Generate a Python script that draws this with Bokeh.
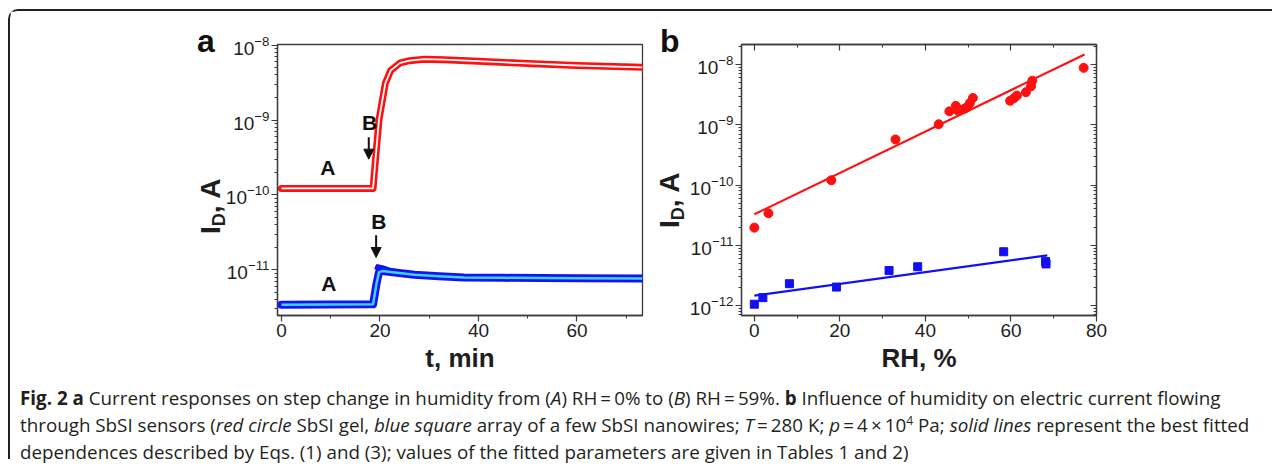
import math
from bokeh.plotting import figure
from bokeh.models import FixedTicker, LogAxis, LinearAxis, Label, Arrow, NormalHead, Div, CustomJSTickFormatter
from bokeh.layouts import row, column
from bokeh.embed import file_html
from bokeh.resources import INLINE

# ---------------- data: panel a (current vs time) ----------------
t_red = [0, 18.6, 19.1, 19.8, 20.4, 21.1, 22.2, 24.1, 26.0, 29.0, 33.0, 40.0, 50.0, 60.0, 73.3]
i_red = [1.22e-10, 1.22e-10, 3.0e-10, 1.0e-9, 1.7e-9, 3.1e-9, 4.6e-9, 5.8e-9, 6.2e-9, 6.5e-9,
         6.4e-9, 6.1e-9, 5.7e-9, 5.35e-9, 5.05e-9]
t_blue = [0, 18.6, 19.3, 19.8, 20.5, 23.0, 27.0, 32.0, 37.0, 45.0, 60.0, 73.3]
i_blue = [3.4e-12, 3.45e-12, 6.5e-12, 9.3e-12, 9.6e-12, 9.2e-12, 8.6e-12, 8.2e-12, 7.9e-12,
          7.8e-12, 7.7e-12, 7.65e-12]
t_blue_peak = [19.2, 19.5, 20.5, 22.0, 24.0]
i_blue_peak = [1.0e-11, 1.12e-11, 1.08e-11, 1.0e-11, 9.4e-12]
a_xticks = [0, 20, 40, 60]
a_xminor = [10, 30, 50, 70]
a_yticks = [1e-11, 1e-10, 1e-9, 1e-8]

# ---------------- data: panel b (current vs RH) ----------------
rh_red = [0, 3.3, 18.0, 33.0, 43.1, 45.6, 47.1, 47.6, 48.2, 49.2, 49.8, 50.4, 51.1,
          59.8, 60.7, 61.4, 63.5, 64.7, 65.0, 77.0]
id_red = [1.96e-11, 3.39e-11, 1.2e-10, 5.7e-10, 1.02e-9, 1.67e-9, 2.06e-9, 1.72e-9, 1.76e-9,
          1.86e-9, 1.98e-9, 2.3e-9, 2.79e-9, 2.5e-9, 2.76e-9, 3.05e-9, 3.47e-9, 4.36e-9, 5.4e-9, 8.8e-9]
rh_blue = [0, 2.0, 8.2, 19.2, 31.5, 38.2, 58.3, 68.1, 68.2]
id_blue = [1.05e-12, 1.35e-12, 2.3e-12, 2.02e-12, 3.8e-12, 4.4e-12, 7.8e-12, 5.35e-12, 4.9e-12]
rh_fit_red = [0, 77.2]
id_fit_red = [3.26e-11, 1.47e-8]
rh_fit_blue = [0, 68.5]
id_fit_blue = [1.46e-12, 6.8e-12]
b_xticks = [0, 20, 40, 60, 80]
b_xminor = [10, 30, 50, 70]
b_yticks = [1e-12, 1e-11, 1e-10, 1e-9, 1e-8]

log_minor = [m * 10.0 ** e for e in range(-13, -7) for m in range(2, 10)]

TXT = "#1e1e1e"
AX = "#3c3c3c"
FONT = "Liberation Sans"


def style_axis(ax, out=True):
    ax.axis_line_color = AX
    ax.axis_line_width = 1.3
    ax.major_tick_line_color = AX
    ax.minor_tick_line_color = AX
    ax.major_tick_line_width = 1.2
    ax.minor_tick_line_width = 1.0
    if out:
        ax.major_tick_out = 6
        ax.major_tick_in = 0
        ax.minor_tick_out = 3
        ax.minor_tick_in = 0
    else:
        ax.major_tick_out = 0
        ax.major_tick_in = 6
        ax.minor_tick_out = 0
        ax.minor_tick_in = 3
    ax.major_label_text_font = FONT
    ax.major_label_text_font_size = "19px"
    ax.major_label_text_color = TXT
    ax.major_label_standoff = 2
    ax.axis_label_text_font = FONT
    ax.axis_label_text_font_size = "26px"
    ax.axis_label_text_font_style = "bold"
    ax.axis_label_text_color = TXT
    ax.axis_label_standoff = 3


# ---------------- panel a ----------------
pa = figure(width=645, height=370, x_range=(-0.8, 73.3), y_range=(2.45e-12, 1.02e-8),
            y_axis_type="log", output_backend="svg", toolbar_location=None,
            min_border_left=267, min_border_right=13, min_border_top=32, min_border_bottom=65)
pa.grid.visible = False
pa.outline_line_color = AX
pa.outline_line_width = 1.3
pa.xaxis.ticker = FixedTicker(ticks=a_xticks, minor_ticks=a_xminor)
pa.yaxis.ticker = FixedTicker(ticks=a_yticks, minor_ticks=log_minor)
pa.xaxis.axis_label = "t, min"
for ax in pa.xaxis + pa.yaxis:
    style_axis(ax)

pa.line(t_red, i_red, line_color="#ff1010", line_width=7, line_cap="round", line_join="round")
pa.line(t_red, i_red, line_color="#ffffff", line_width=1.8, line_join="round")
pa.line(t_blue_peak, i_blue_peak, line_color="#1414f0", line_width=4, line_join="round")
pa.line(t_blue, i_blue, line_color="#1414f0", line_width=8, line_cap="round", line_join="round")
pa.line(t_blue, i_blue, line_color="#3cd4ff", line_width=2.5, line_join="round")

for (x, y, t) in [(9.4, 2.33e-10, "A"), (17.87, 9.4e-10, "B"), (9.6, 6.65e-12, "A"), (19.76, 4.37e-11, "B")]:
    pa.add_layout(Label(x=x, y=y, text=t, text_font=FONT, text_font_style="bold", text_font_size="21px",
                        text_color="#111111", text_align="center", text_baseline="middle"))
for (x, y0, y1) in [(17.73, 5.88e-10, 3.0e-10), (19.22, 2.88e-11, 1.46e-11)]:
    pa.add_layout(Arrow(x_start=x, y_start=y0, x_end=x, y_end=y1, line_width=2, line_color="#111111",
                        end=NormalHead(size=10, fill_color="#111111", line_color="#111111")))

# ---------------- panel b ----------------
pb = figure(width=617, height=370, x_range=(-3, 80), y_range=(6.82e-13, 2.15e-8),
            y_axis_type="log", output_backend="svg", toolbar_location=None,
            min_border_left=86, min_border_right=176, min_border_top=33, min_border_bottom=66)
pb.grid.visible = False
pb.outline_line_color = AX
pb.outline_line_width = 1.3
pb.xaxis.ticker = FixedTicker(ticks=b_xticks, minor_ticks=b_xminor)
pb.yaxis.ticker = FixedTicker(ticks=b_yticks, minor_ticks=log_minor)
pb.xaxis.axis_label = "RH, %"
for ax in pb.xaxis + pb.yaxis:
    style_axis(ax)
blank = CustomJSTickFormatter(code="return ''")
top = LinearAxis(ticker=FixedTicker(ticks=b_xticks, minor_ticks=b_xminor), formatter=blank)
right = LogAxis(ticker=FixedTicker(ticks=b_yticks, minor_ticks=log_minor), formatter=blank)
for ax in (top, right):
    style_axis(ax, out=False)
    ax.major_label_text_font_size = "1px"
pb.add_layout(top, "above")
pb.add_layout(right, "right")

pb.line(rh_fit_red, id_fit_red, line_color="#ff1010", line_width=2.2)
pb.line(rh_fit_blue, id_fit_blue, line_color="#1010f0", line_width=2.2)
pb.scatter(rh_red, id_red, marker="circle", size=9, fill_color="#ff1010", line_color="#ff1010")
pb.scatter(rh_blue, id_blue, marker="square", size=8, fill_color="#1010f0", line_color="#1010f0")

# ---------------- overlay texts (panel letters, y-axis labels with subscript) ----------------
LBL = "font-family:'Liberation Sans';font-weight:bold;color:#1e1e1e;line-height:1;white-space:nowrap;position:absolute;"


def ylab(left, top):
    return ('<div style="%sleft:%.1fpx;top:%.1fpx;font-size:28px;transform-origin:0 0;transform:rotate(-90deg);">'
            'I<span style="font-size:18px;position:relative;top:5px;">D</span>, A</div>' % (LBL, left, top))


def letter(left, top, t):
    return '<div style="%sleft:%.1fpx;top:%.1fpx;font-size:32px;color:#111;">%s</div>' % (LBL, left, top, t)


overlay_html = ('<div style="position:relative;width:1262px;height:0;overflow:visible;">'
                + letter(187, 2, "a") + letter(650, 2, "b")
                + ylab(187.3, 211) + ylab(646.3, 205) + '</div>')
overlay = Div(text=overlay_html, width=1262, height=0, margin=0,
              styles={"position": "relative", "z-index": "5", "overflow": "visible"})

# ---------------- caption ----------------
line1 = ('<b>Fig. 2 a</b> Current responses on step change in humidity from (<i>A</i>) RH\u2009=\u20090% to '
         '(<i>B</i>) RH\u2009=\u200959%. <b>b</b> Influence of humidity on electric current flowing')
line2 = ('through SbSI sensors (<i>red circle</i> SbSI gel, <i>blue square</i> array of a few SbSI nanowires; '
         '<i>T</i>\u2009=\u2009280 K; <i>p</i>\u2009=\u20094\u2009\u00d7\u200910<sup style="font-size:12px;line-height:0">4</sup> Pa; '
         '<i>solid lines</i> represent the best fitted')
line3 = ('dependences described by Eqs. (1) and (3); values of the fitted parameters are given in Tables 1 and 2)')
html = ('<div style="font-family:\'Open Sans\';font-size:18.8px;line-height:27px;color:#231f20;'
        'white-space:nowrap;padding:4px 0 0 10px;">'
        + line1 + '<br>' + line2 + '<br>' + line3 + '</div>')
cap = Div(text=html, width=1262, height=78, margin=0, styles={"overflow": "visible"})

layout = column(overlay, row(pa, pb), cap,
                styles={"border-top": "2px solid #222", "border-left": "2px solid #222",
                        "border-top-left-radius": "10px", "margin": "9px 0 0 8px"})

open("out.html", "w").write(file_html(layout, INLINE))
